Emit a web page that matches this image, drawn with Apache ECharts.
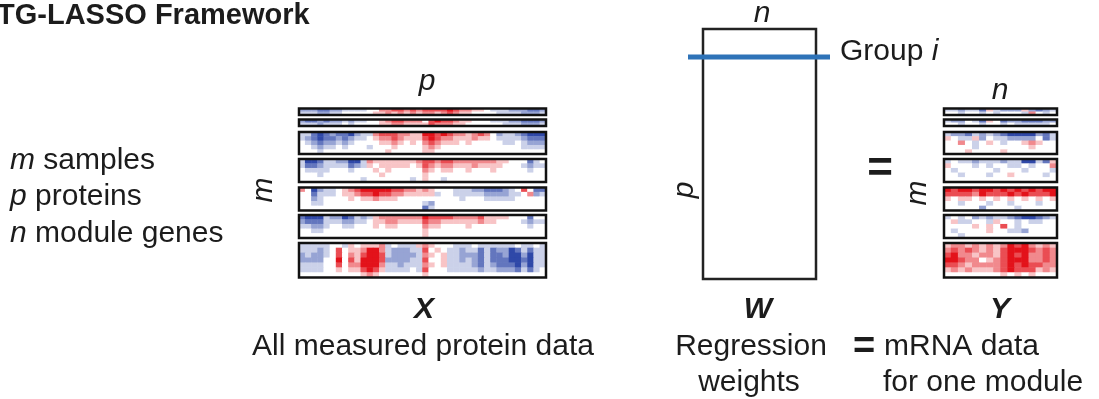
<!DOCTYPE html>
<html>
<head>
<meta charset="utf-8">
<script src="https://cdn.jsdelivr.net/npm/echarts@6/dist/echarts.min.js"></script>
<style>
  html, body { margin: 0; padding: 0; background: #fff; }
  #main { width: 1099px; height: 399px; }
</style>
</head>
<body>
<div id="main"></div>
<script>
// cell levels: 0 = strong blue, 4 = white, 8 = strong red
// X : all measured protein data, 40 columns, 7 row blocks
var protB1 = [
  '2221122333' + '3446677676' + '7777876655' + '4333222112',
  '3332233444' + '4455656565' + '6656765544' + '4433332223'
];
var protB2 = [
  '2112122323' + '3445677666' + '4787765544' + '4333221112',
  '3332333434' + '4445566555' + '5766655444' + '4443332223'
];
var protB3 = [
  '3310121102' + '3367776655' + '8878766567' + '6423321000',
  '3210112123' + '3456676555' + '7876655565' + '5433332111',
  '4321223234' + '4445565454' + '6765554544' + '4443343222',
  '4432334344' + '4344454444' + '5654444444' + '4444443333',
  '4443444444' + '4444544444' + '5544444444' + '4444444444'
];
var protB4 = [
  '3001332200' + '3655555556' + '7767766666' + '6655444134',
  '3112333312' + '3545555545' + '7656655565' + '5554443233',
  '4333344434' + '4454544444' + '6545544544' + '4544444344',
  '4443444444' + '4445444444' + '5444444444' + '4444444444',
  '4444444444' + '3444444434' + '5443444444' + '4444444444'
];
var protB5 = [
  '6402334567' + '8888877665' + '6544433322' + '1112347411',
  '4413334556' + '7787766555' + '5534433333' + '2222334623',
  '4423444454' + '5565554444' + '4444443444' + '3333344444',
  '4433444444' + '4444444444' + '3244444444' + '4444444444',
  '4444444444' + '4444444444' + '1344444444' + '4444444444'
];
var protB6 = [
  '1000322013' + '2356666666' + '8777766667' + '5555444144',
  '2111333223' + '3455665555' + '7665555556' + '5544443233',
  '3322344334' + '4454554444' + '6554444544' + '4444444344',
  '4433444444' + '4444444444' + '5444444444' + '4444444444',
  '4444444444' + '4444444444' + '5444444444' + '4444444444'
];
var protB7 = [
  '3333344354' + '5556343335' + '6544433343' + '3333343343',
  '3332347455' + '6886322233' + '7454332331' + '3122013133',
  '2322347465' + '7887322223' + '6545332221' + '3112002033',
  '2222448475' + '8887222233' + '7445332321' + '3111001033',
  '3333447466' + '8886332333' + '6545333321' + '3211102033',
  '3333445455' + '7875333343' + '7444333332' + '3322213134',
  '4444444444' + '5654444444' + '5444444444' + '4444444444'
];

// Y : mRNA data for one module, 16 columns, 7 row blocks
var mrnaB1 = ['3323315322252123', '4434434344436434'];
var mrnaB2 = ['3224315412211122', '4434434434333334'];
var mrnaB3 = [
  '3221323210000213',
  '5433524332222413',
  '4464345434456544',
  '4444344444445444',
  '4445444454444444'
];
var mrnaB4 = [
  '3433233323300315',
  '5444343443343446',
  '4344444344434443',
  '4434443445444434',
  '4444444444444444'
];
var mrnaB5 = [
  '8788788787878788',
  '7777687778787778',
  '5455454545454545',
  '4434443443444344',
  '4444424444344444'
];
var mrnaB6 = [
  '3434232332100123',
  '4533443544343344',
  '4444545474344444',
  '4344445443324444',
  '4434444444444444'
];
var mrnaB7 = [
  '5665656568786565',
  '6767656578887676',
  '7866566578786676',
  '8876645678886676',
  '7765666678787766',
  '5656555678777565',
  '4444444454545444'
];

var protBlocks = [protB1, protB2, protB3, protB4, protB5, protB6, protB7];
var mrnaBlocks = [mrnaB1, mrnaB2, mrnaB3, mrnaB4, mrnaB5, mrnaB6, mrnaB7];

var FONT = '"Liberation Sans", Arial, Helvetica, sans-serif';
var INK = '#1c1c1c';
// vertical bands of the row blocks (top, bottom)
var bands = [[108.5, 115], [119.5, 126], [132, 154], [159, 182], [187.5, 210.5], [215, 238], [243, 277.5]];

var chart = echarts.init(document.getElementById('main'));

function seq(n) {
  var a = [];
  for (var i = 0; i < n; i++) a.push(i);
  return a;
}
function toCells(rows) {
  var out = [];
  rows.forEach(function (r, j) {
    for (var i = 0; i < r.length; i++) out.push([i, j, Number(r[i]) - 4]);
  });
  return out;
}

var grids = [], xAxes = [], yAxes = [], series = [];

function addMatrix(blocks, left, width) {
  blocks.forEach(function (rows, k) {
    var gi = grids.length;
    grids.push({
      left: left, width: width,
      top: bands[k][0], height: bands[k][1] - bands[k][0],
      show: true, z: 10, backgroundColor: 'transparent',
      borderColor: '#111', borderWidth: 2.5
    });
    xAxes.push({ type: 'category', gridIndex: gi, data: seq(rows[0].length), show: false });
    yAxes.push({ type: 'category', gridIndex: gi, data: seq(rows.length), inverse: true, show: false });
    series.push({
      type: 'heatmap', xAxisIndex: gi, yAxisIndex: gi,
      data: toCells(rows), silent: true, animation: false
    });
  });
}

addMatrix(protBlocks, 299, 247);
addMatrix(mrnaBlocks, 944, 113);

// W : the empty regression weight matrix
var wi = grids.length;
grids.push({ left: 703, top: 29, width: 113, height: 250, show: true, borderColor: '#222', borderWidth: 2.5 });
xAxes.push({ type: 'value', gridIndex: wi, min: 0, max: 1, show: false });
yAxes.push({ type: 'value', gridIndex: wi, min: 0, max: 1, show: false });

function label(text, x, y, size, opt) {
  opt = opt || {};
  return {
    type: 'text', x: x, y: y, rotation: opt.rot || 0, z: 20,
    style: {
      text: text, fill: INK,
      fontSize: size, fontFamily: FONT,
      fontWeight: opt.bold ? 'bold' : 'normal',
      fontStyle: opt.italic ? 'italic' : 'normal',
      align: opt.align || 'center', verticalAlign: 'middle',
      rich: opt.rich
    }
  };
}
var ital = { i: { fontStyle: 'italic', fontSize: 30, fontFamily: FONT, fill: INK } };

var graphics = [
  label('TG-LASSO Framework', -3, 16, 29, { bold: true, align: 'left' }),
  label('{i|m} samples', 10, 161, 30, { align: 'left', rich: ital }),
  label('{i|p} proteins', 10, 197, 30, { align: 'left', rich: ital }),
  label('{i|n} module genes', 10, 234, 30, { align: 'left', rich: ital }),
  label('p', 427, 82, 30, { italic: true }),
  label('m', 264, 190, 30, { italic: true, rot: Math.PI / 2 }),
  label('n', 762, 14, 30, { italic: true }),
  label('p', 685, 190, 30, { italic: true, rot: Math.PI / 2 }),
  label('Group {i|i}', 840, 52, 30, { align: 'left', rich: ital }),
  label('=', 880, 170, 44, { bold: true }),
  label('m', 918, 193, 30, { italic: true, rot: Math.PI / 2 }),
  label('n', 1000, 91, 30, { italic: true }),
  label('X', 424, 310, 30, { bold: true, italic: true }),
  label('W', 758, 310, 30, { bold: true, italic: true }),
  label('Y', 1000, 310, 30, { bold: true, italic: true }),
  label('All measured protein data', 423, 347, 30),
  label('Regression', 751, 347, 30),
  label('weights', 749, 383, 30),
  label('=', 864, 348, 38, { bold: true }),
  label('mRNA data', 884, 347, 30, { align: 'left' }),
  label('for one module', 883, 383, 30, { align: 'left' }),
  {
    type: 'line', z: 15,
    shape: { x1: 688, y1: 57, x2: 830, y2: 57 },
    style: { stroke: '#2e73b8', lineWidth: 5 }
  }
];

chart.setOption({
  animation: false,
  backgroundColor: '#fff',
  grid: grids,
  xAxis: xAxes,
  yAxis: yAxes,
  visualMap: {
    show: false, type: 'continuous', min: -4, max: 4,
    seriesIndex: seq(series.length),
    inRange: { color: ['#2f48a8', '#ffffff', '#e3121a'] }
  },
  series: series,
  graphic: graphics
});
</script>
</body>
</html>
